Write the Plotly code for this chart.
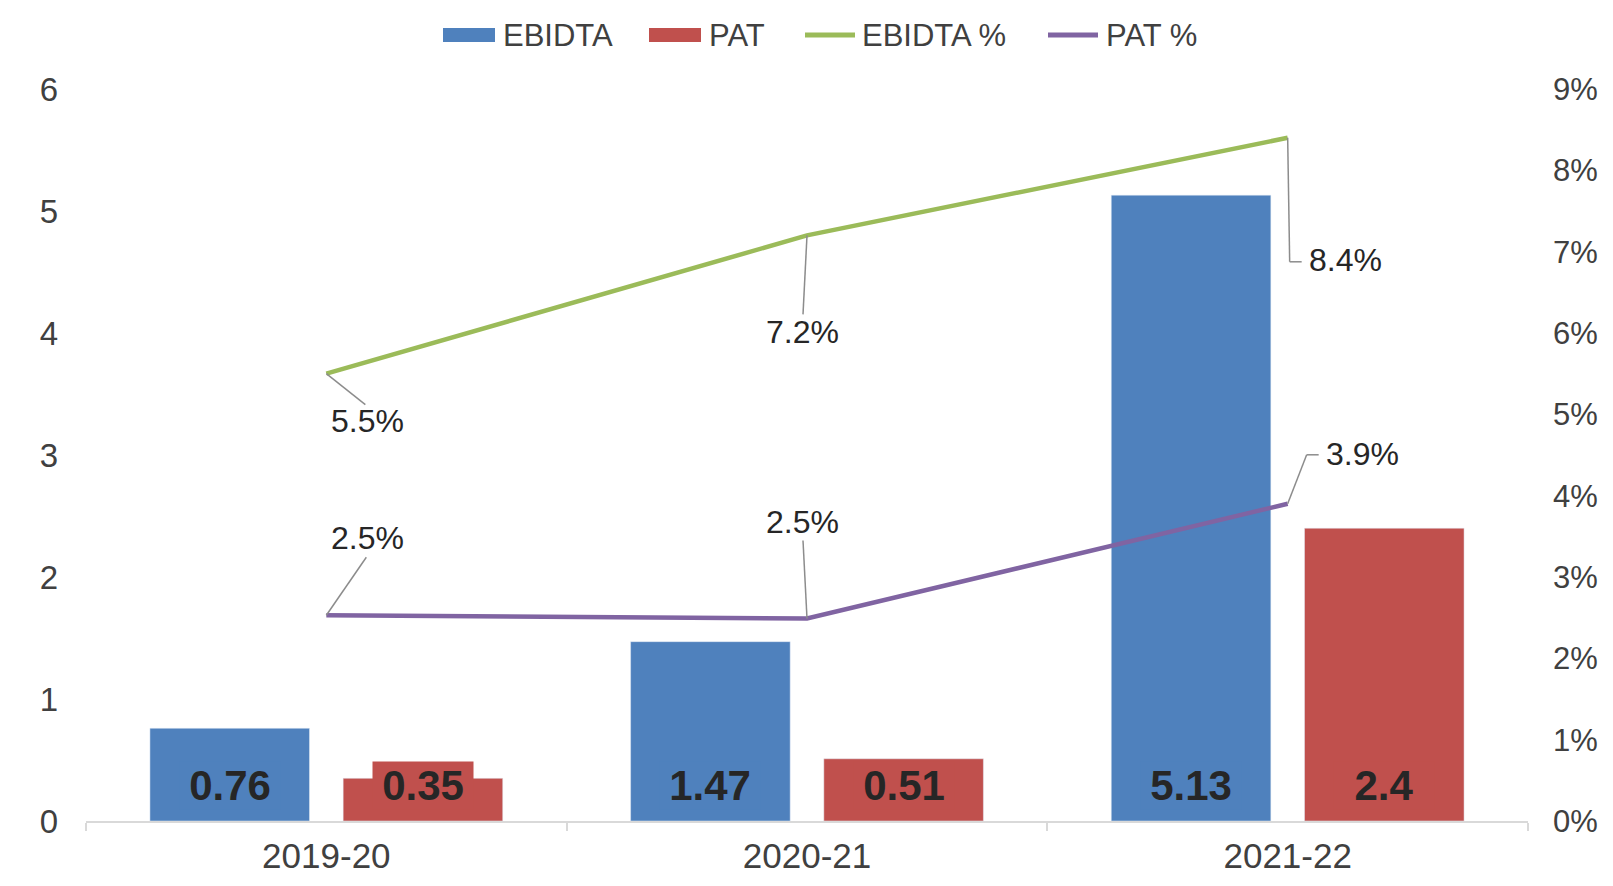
import plotly.graph_objects as go

# ---------------- data ----------------
years = ["2019-20", "2020-21", "2021-22"]
ebidta = [0.76, 1.47, 5.13]
pat = [0.35, 0.51, 2.4]
ebidta_pct = [5.5, 7.2, 8.4]
pat_pct = [2.53, 2.49, 3.9]
y_ticks = [0, 1, 2, 3, 4, 5, 6]
y2_ticks = [0, 1, 2, 3, 4, 5, 6, 7, 8, 9]
series_names = ["EBIDTA", "PAT", "EBIDTA %", "PAT %"]

# ---------------- styling ----------------
PAGE_OFF = 8                     # default body margin of the html page
W, H = 1613 - PAGE_OFF, 886 - PAGE_OFF
ML, MR, MT, MB = 86 - PAGE_OFF, 85, 89 - PAGE_OFF, 65
BLUE, RED, GREEN, PURPLE = "#4F81BD", "#C0504D", "#9BBB59", "#8064A2"
FONT = "Liberation Sans, Arial, Helvetica, sans-serif"
TXT = "#404040"
LBL = "#262626"

BAR_W = 0.332
GAP = 0.07
off_e = -(BAR_W + GAP / 2)
off_p = GAP / 2

PW, PH = W - ML - MR, H - MT - MB
px_x = PW / len(years)        # pixels per category
px_y2 = PH / 9.0              # pixels per percentage point

fig = go.Figure()
fig.add_trace(go.Bar(x=years, y=ebidta, name=series_names[0], marker_color=BLUE,
                     width=BAR_W, offset=off_e, yaxis="y", showlegend=False))
fig.add_trace(go.Bar(x=years, y=pat, name=series_names[1], marker_color=RED,
                     width=BAR_W, offset=off_p, yaxis="y", showlegend=False))
fig.add_trace(go.Scatter(x=years, y=ebidta_pct, name=series_names[2], mode="lines",
                         line=dict(color=GREEN, width=4.5), yaxis="y2", showlegend=False))
fig.add_trace(go.Scatter(x=years, y=pat_pct, name=series_names[3], mode="lines",
                         line=dict(color=PURPLE, width=4.5), yaxis="y2", showlegend=False))

annotations = []
shapes = []

# bar value labels near the base of each bar
for i in range(len(years)):
    for vals, off, col in ((ebidta, off_e, BLUE), (pat, off_p, RED)):
        annotations.append(dict(
            x=i + off + BAR_W / 2, y=0, xref="x", yref="y",
            text="<b>%s</b>" % ("%g" % vals[i]), showarrow=False,
            yanchor="middle", yshift=36, width=100,
            font=dict(family=FONT, size=42, color=LBL),
            bgcolor=col, borderpad=0,
        ))

# percentage labels with leader lines (pixel offsets from the point)
pct_labels = [
    (ebidta_pct, 0, 41, 47, [(0, 0), (39, 31)]),
    (ebidta_pct, 1, -5, 97, [(0, 0), (-4, 79)]),
    (ebidta_pct, 2, 58, 122, [(0, 0), (2, 124), (14, 124)]),
    (pat_pct, 0, 41, -77, [(0, 0), (40, -58)]),
    (pat_pct, 1, -5, -96, [(0, 0), (-4, -78)]),
    (pat_pct, 2, 75, -50, [(0, 0), (19, -49), (31, -49)]),
]
for series, i, tdx, tdy, pts in pct_labels:
    v = series[i]
    annotations.append(dict(
        x=i, y=v, xref="x", yref="y2", text="%.1f%%" % v, showarrow=False,
        xshift=tdx, yshift=-tdy, xanchor="center", yanchor="middle",
        font=dict(family=FONT, size=32, color=LBL),
    ))
    for (ax0, ay0), (ax1, ay1) in zip(pts[:-1], pts[1:]):
        shapes.append(dict(
            type="line", xref="x", yref="y2",
            x0=i + ax0 / px_x, y0=v - ay0 / px_y2,
            x1=i + ax1 / px_x, y1=v - ay1 / px_y2,
            line=dict(color="#8C8C8C", width=1.5), layer="above",
        ))

# legend drawn at the top (page pixel positions -> paper coordinates)
def px2paper_x(px):
    return (px - PAGE_OFF - ML) / PW

def px2paper_y(py):
    return (H - MB - (py - PAGE_OFF)) / PH

legend_items = [
    (series_names[0], BLUE, "rect", 443, 501),
    (series_names[1], RED, "rect", 649, 707),
    (series_names[2], GREEN, "line", 803, 860),
    (series_names[3], PURPLE, "line", 1046, 1104),
]
LEG_Y = 35
for name, col, kind, sx, tx in legend_items:
    if kind == "rect":
        shapes.append(dict(type="rect", xref="paper", yref="paper",
                           x0=px2paper_x(sx), x1=px2paper_x(sx + 52),
                           y0=px2paper_y(LEG_Y + 7), y1=px2paper_y(LEG_Y - 7),
                           fillcolor=col, line=dict(width=0)))
    else:
        shapes.append(dict(type="line", xref="paper", yref="paper",
                           x0=px2paper_x(sx + 2), x1=px2paper_x(sx + 52),
                           y0=px2paper_y(LEG_Y), y1=px2paper_y(LEG_Y),
                           line=dict(color=col, width=5)))
    annotations.append(dict(x=px2paper_x(tx), y=px2paper_y(LEG_Y), xref="paper",
                            yref="paper", text=name, showarrow=False,
                            xanchor="left", yanchor="middle",
                            font=dict(family=FONT, size=31, color=TXT)))

fig.update_layout(
    width=W, height=H,
    margin=dict(l=ML, r=MR, t=MT, b=MB, autoexpand=False),
    paper_bgcolor="white", plot_bgcolor="white",
    barmode="overlay",
    font=dict(family=FONT, color=TXT, size=33),
    showlegend=False,
    xaxis=dict(type="category", showgrid=False, showline=True, linecolor="#D9D9D9",
               linewidth=2, ticks="outside", tickson="boundaries", ticklen=8,
               tickcolor="#D9D9D9", tickwidth=2, range=[-0.5, 2.5],
               tickfont=dict(family=FONT, size=35, color=TXT), ticklabelstandoff=3,
               automargin=False),
    yaxis=dict(range=[0, 6], tickvals=y_ticks, showgrid=False, zeroline=False,
               showline=False, ticks="", tickfont=dict(family=FONT, size=33, color=TXT),
               ticklabelstandoff=27, automargin=False),
    yaxis2=dict(range=[0, 9], tickvals=y2_ticks, ticktext=["%d%%" % t for t in y2_ticks],
                overlaying="y", side="right", showgrid=False, zeroline=False,
                showline=False, ticks="", tickfont=dict(family=FONT, size=31, color=TXT),
                ticklabelstandoff=24, automargin=False),
    annotations=annotations,
    shapes=shapes,
)

fig.write_html("out.html")
